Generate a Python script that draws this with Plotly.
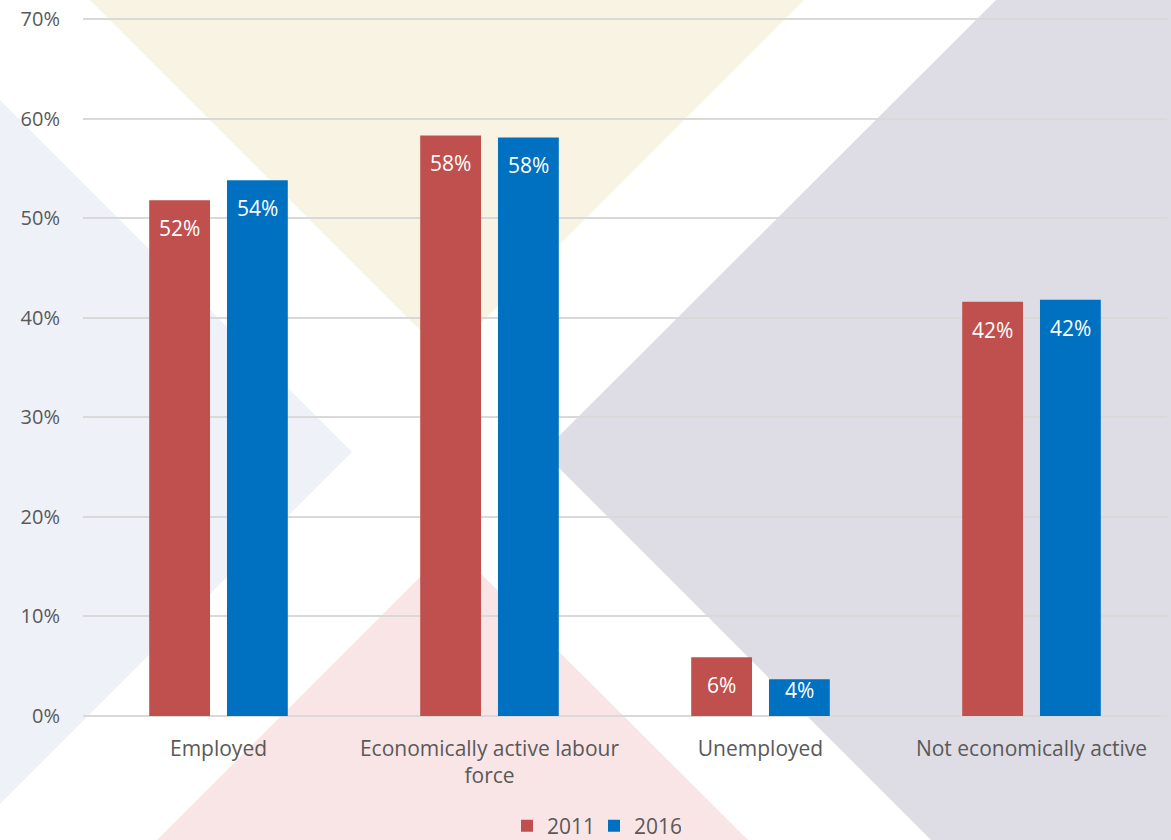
import plotly.graph_objects as go

categories = ["Employed", "Economically active labour<br>force", "Unemployed", "Not economically active"]
series_names = ["2011", "2016"]
values_2011 = [0.518, 0.583, 0.059, 0.416]
values_2016 = [0.538, 0.581, 0.037, 0.418]
colors = ["#C0504D", "#0070C0"]
y_ticks = [0, 0.1, 0.2, 0.3, 0.4, 0.5, 0.6, 0.7]

W, H = 1171, 840
ML, MR, MT, MB = 83, 4, 17, 124
PW = W - ML - MR
PH = H - MT - MB
PB = H - MB  # pixel y of plot bottom
Y_TOP = 0.702
PX_PER_UNIT = PH / Y_TOP


def path(points):
    pts = [((x - ML) / PW, (PB - y) / PH) for x, y in points]
    return "M " + " L ".join(f"{a:.5f},{b:.5f}" for a, b in pts) + " Z"


bg_shapes = [
    ([(90, 0), (804, 0), (447, 357)], "#F9F3E3"),
    ([(0, 100), (352, 452), (0, 804)], "#EEF1F8"),
    ([(996, 0), (1171, 0), (1171, 840), (931, 840), (543, 452)], "#DEDCE5"),
    ([(452, 545), (157, 840), (748, 840)], "#F9E5E6"),
]

fig = go.Figure()
for name, vals, col in zip(series_names, [values_2011, values_2016], colors):
    fig.add_trace(go.Bar(x=categories, y=vals, name=name, marker=dict(color=col, line=dict(width=0))))

shapes = [dict(type="path", path=path(p), xref="paper", yref="paper", fillcolor=c,
               line=dict(width=0), layer="below") for p, c in bg_shapes]

annotations = []
for vals, shift in zip([values_2011, values_2016], [-39, 39]):
    for cat, v in zip(categories, vals):
        bar_px = v * PX_PER_UNIT
        annotations.append(dict(x=cat, y=v, xref="x", yref="y", text=f"{round(v*100):.0f}%",
                                showarrow=False, xshift=shift, yshift=-min(28, bar_px - 26), yanchor="middle",
                                font=dict(family="Open Sans", size=21, color="white")))

fig.update_layout(
    width=W, height=H,
    margin=dict(l=ML, r=MR, t=MT, b=MB, pad=0, autoexpand=False),
    paper_bgcolor="white", plot_bgcolor="rgba(0,0,0,0)",
    barmode="group", bargap=0.426, bargroupgap=0.218,
    shapes=shapes, annotations=annotations,
    font=dict(family="Open Sans", color="#595959", size=21),
    showlegend=True,
    legend=dict(orientation="h", x=594 / W, xref="container", xanchor="center",
                y=(H - 826) / H, yref="container", yanchor="middle", entrywidth=42,
                font=dict(size=21, color="#595959"), bgcolor="rgba(0,0,0,0)"),
    xaxis=dict(showgrid=False, showline=False, ticks="", tickfont=dict(size=21, color="#595959"),
               ticklabelstandoff=18, zeroline=False, automargin=False),
    yaxis=dict(range=[0, Y_TOP], tickvals=y_ticks, tickformat=".0%", showgrid=True, gridcolor="#D9D9D9",
               gridwidth=1.5, zeroline=True, zerolinecolor="#D9D9D9", zerolinewidth=2, showline=False,
               ticks="", ticklabelstandoff=22, tickfont=dict(size=20, color="#595959"), automargin=False),
)

fig.write_html("out.html")
